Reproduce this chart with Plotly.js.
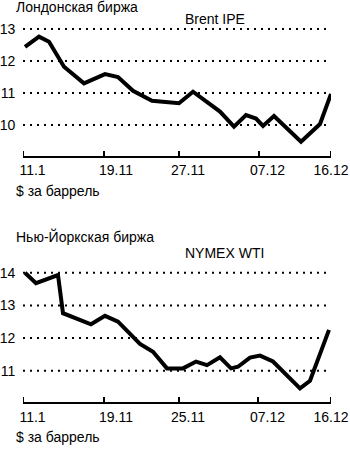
<!DOCTYPE html>
<html>
<head>
<meta charset="utf-8">
<script src="https://cdn.plot.ly/plotly-3.0.1.min.js"></script>
<style>html,body{margin:0;padding:0;background:#fff;}#chart{width:350px;height:449px;}</style>
</head>
<body>
<div id="chart"></div>
<script>
// Brent IPE (London) — x positions in axis units (11.1 = 0, 16.12 = 308)
const brentX = [2,16,26,41,61,82,95,110,129,156,170,183,197,211,223,233,240,251,278,297,308];
const brentY = [12.44,12.76,12.6,11.82,11.3,11.59,11.5,11.07,10.76,10.68,11.04,10.73,10.42,9.95,10.31,10.2,9.97,10.28,9.48,10.03,10.97];
// NYMEX WTI (New York)
const wtiX = [2,13,35,40,68,82,95,117,130,144,160,173,184,197,208,215,227,237,250,265,277,287,306];
const wtiY = [14.0,13.68,13.93,12.76,12.42,12.68,12.5,11.82,11.58,11.07,11.07,11.28,11.17,11.41,11.07,11.12,11.4,11.46,11.28,10.82,10.46,10.69,12.25];

const brentTickVals = [0,81,156,236,308];
const brentTickText = ['11.1','19.11','27.11','07.12','16.12'];
const wtiTickVals = [0,81,156,235,308];
const wtiTickText = ['11.1','19.11','25.11','07.12','16.12'];
const labelCenters = [32.5,116,188,267.5,331];   // page x of tick label centres

const brentYTicks = [10,11,12,13];
const wtiYTicks = [11,12,13,14];

const titlesTop = ['Лондонская биржа', 'Brent IPE', '$ за баррель'];
const titlesBottom = ['Нью-Йоркская биржа', 'NYMEX WTI', '$ за баррель'];
const titleX = [16, 185, 16];
const titleYTop = [8, 20, 192];
const titleYBottom = [238, 254.5, 438.5];

const FONT = 'Liberation Sans, Arial, Helvetica, sans-serif';
const W = 350, H = 449;
const py = p => 1 - p / H;
const tfont = {family: FONT, size: 14, color: '#000'};

const traces = [
  {x: brentX, y: brentY, xaxis: 'x', yaxis: 'y', mode: 'lines', line: {color: '#000', width: 4}},
  {x: wtiX, y: wtiY, xaxis: 'x2', yaxis: 'y2', mode: 'lines', line: {color: '#000', width: 4}},
  {x: labelCenters, y: labelCenters.map(() => 171.5), text: brentTickText,
   mode: 'text', textposition: 'middle center', textfont: tfont, xaxis: 'x3', yaxis: 'y3'},
  {x: labelCenters, y: labelCenters.map(() => 418.5), text: wtiTickText,
   mode: 'text', textposition: 'middle center', textfont: tfont, xaxis: 'x3', yaxis: 'y3'},
  {x: titleX, y: titleYTop, text: titlesTop,
   mode: 'text', textposition: 'middle right', textfont: tfont, xaxis: 'x3', yaxis: 'y3'},
  {x: titleX, y: titleYBottom, text: titlesBottom,
   mode: 'text', textposition: 'middle right', textfont: tfont, xaxis: 'x3', yaxis: 'y3'}
];

function xAxis(anchor) {
  return {domain: [23/W, 331/W], range: [0, 308], anchor: anchor,
    showgrid: false, zeroline: false, showline: false, ticks: '', showticklabels: false};
}
function yAxis(domain, range, tv, anchor) {
  return {domain: domain, range: range, anchor: anchor, showline: false, zeroline: false,
    ticks: 'outside', ticklen: 4, tickcolor: 'rgba(0,0,0,0)', showgrid: false,
    tickvals: tv, tickfont: tfont};
}

// axis lines, tick marks and dotted grid lines as layout shapes
const shapes = [];
function axisShapes(xr, yr, yTicks, xTicks, tickFrac) {
  yTicks.forEach(v => shapes.push({type: 'line', xref: xr, yref: yr, x0: 0, x1: 306, y0: v, y1: v,
    line: {color: '#000', width: 2, dash: '2px,5px'}}));
  shapes.push({type: 'line', xref: xr, yref: yr + ' domain', x0: 0, x1: 308, y0: 0, y1: 0,
    line: {color: '#000', width: 2}});
  xTicks.forEach(v => shapes.push({type: 'line', xref: xr, yref: yr + ' domain', x0: v, x1: v, y0: 0, y1: tickFrac,
    line: {color: '#000', width: 2}}));
}
axisShapes('x', 'y', brentYTicks, brentTickVals, 6 / 134.4);
axisShapes('x2', 'y2', wtiYTicks, wtiTickVals, 6 / 136.8);

const layout = {
  width: W, height: H, margin: {l: 0, r: 0, t: 0, b: 0}, showlegend: false,
  paper_bgcolor: '#fff', plot_bgcolor: 'rgba(0,0,0,0)',
  xaxis: xAxis('y'),
  yaxis: yAxis([py(157), py(22.6)], [9.0, 13.2], brentYTicks, 'x'),
  xaxis2: xAxis('y2'),
  yaxis2: yAxis([py(403), py(266.2)], [10.01, 14.2], wtiYTicks, 'x2'),
  xaxis3: {domain: [0, 1], range: [0, W], anchor: 'y3', visible: false},
  yaxis3: {domain: [0, 1], range: [H, 0], anchor: 'x3', visible: false},
  shapes: shapes
};

Plotly.newPlot('chart', traces, layout, {staticPlot: true});
</script>
</body>
</html>
